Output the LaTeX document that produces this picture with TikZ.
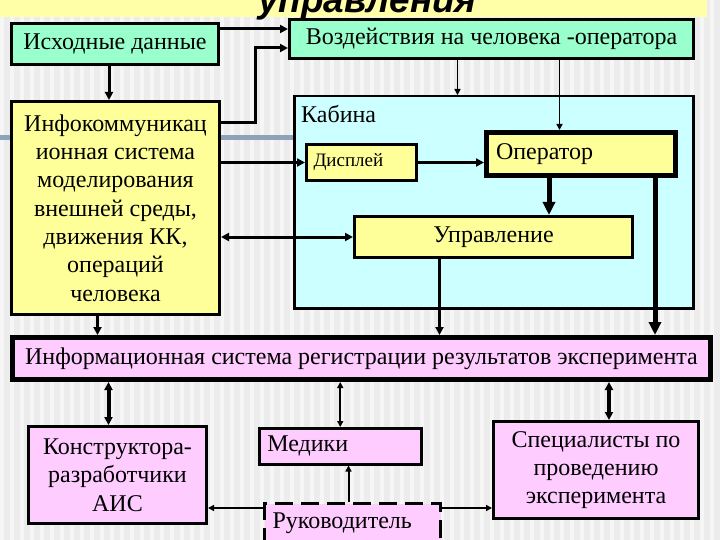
\documentclass[tikz,border=0pt]{standalone}
\usepackage{fontspec}
\setmainfont{Liberation Serif}
\newfontfamily\titlefont{Liberation Sans}
\usetikzlibrary{arrows.meta, positioning, calc}
\definecolor{SlideGray}{HTML}{ECECEC}
\definecolor{SlideBand}{HTML}{FFFFA8}
\definecolor{RuleBlue}{HTML}{8EA2B8}
\definecolor{BoxMint}{HTML}{99FFCC}
\definecolor{BoxYellow}{HTML}{FFFF99}
\definecolor{BoxCyan}{HTML}{CCFFFF}
\definecolor{BoxPink}{HTML}{FFCCFF}
\newcommand{\boxfont}{\fontsize{24}{28.3}\selectfont}
\tikzset{
    % Slide heading (cut off at the top)
    heading/.style={
        anchor=base west,
        inner sep=0pt,
        font=\titlefont\bfseries\itshape\fontsize{37}{37}\selectfont
    },
    % Plain box
    block/.style={
        rectangle,
        draw=black,
        line width=3pt,
        anchor=north west,
        align=center,
        inner sep=4pt,
        font=\boxfont
    },
    % Input data box
    inputbox/.style={block, fill=BoxMint},
    % Model and cabin unit box
    unitbox/.style={block, fill=BoxYellow},
    % Registry and people box
    peoplebox/.style={block, fill=BoxPink},
    % Cabin frame
    cabinframe/.style={block, fill=BoxCyan, line width=2.5pt},
    % Text set to the left of its box
    lefttext/.style={align=left, inner xsep=7pt},
    % Arrow styles
    link/.style={-{Triangle[length=8pt,width=8pt]}, line width=3pt},
    thinlink/.style={-{Triangle[length=6pt,width=6pt]}, line width=1.5pt},
    heavylink/.style={-{Triangle[length=13pt,width=12pt]}, line width=5pt},
    duallink/.style={{Triangle[length=8pt,width=8pt]}-{Triangle[length=8pt,width=8pt]}, line width=3pt},
    thindual/.style={{Triangle[length=6pt,width=6pt]}-{Triangle[length=6pt,width=6pt]}, line width=1.8pt}
}
\begin{document}
\begin{tikzpicture}[x=1pt, y=-1pt]
        % Slide background
        \clip (0,0) rectangle (720,540);
        \fill [SlideGray] (0,0) rectangle (720,540);
        \foreach \sx in {0,10,...,720}
            \fill [white, opacity=0.55] (\sx,0) rectangle ++(4,540);
        \fill [SlideBand] (0,0) rectangle (707,17);
        \draw [RuleBlue, line width=5pt] (0,137.5) -- (293,137.5);
        \node (title) [heading] at (258,13) {управления};

        % Inputs and model
        \node (src) [inputbox, minimum width=207pt, minimum height=41pt] at (10,22) {Исходные данные};
        \node (impact) [inputbox, minimum width=404pt, minimum height=39pt, inner xsep=2pt] at (288,18) {Воздействия на человека -оператора};
        \node (sim) [unitbox, minimum width=208pt, minimum height=213pt] at (10,100) {Инфокоммуникац\\ионная система\\моделирования\\внешней среды,\\движения КК,\\операций\\человека};

        % Cabin
        \node (cabin) [cabinframe, minimum width=399pt, minimum height=212pt] at (293,95) {};
        \node (cabinlabel) [anchor=base west, inner sep=0pt, font=\boxfont] at (301,123) {Кабина};
        \node (display) [unitbox, lefttext, text width=96pt, minimum width=110pt, minimum height=36pt, font=\fontsize{19}{22}\selectfont] at (305,143) {Дисплей};
        \node (operator) [unitbox, lefttext, line width=5pt, text width=170pt, minimum width=189pt, minimum height=43pt] at (484,130) {Оператор};
        \node (control) [unitbox, minimum width=278pt, minimum height=41pt] at (353,215) {Управление};

        % Registry and people
        \node (registry) [peoplebox, line width=5pt, minimum width=698pt, minimum height=42pt, inner xsep=1pt] at (10,335) {Информационная система регистрации результатов эксперимента};
        \node (designers) [peoplebox, minimum width=178pt, minimum height=97pt] at (27,425) {Конструктора-\\разработчики\\АИС};
        \node (medics) [peoplebox, lefttext, line width=2.5pt, text width=146pt, minimum width=162pt, minimum height=36pt] at (258,427) {Медики};
        \node (chief) [peoplebox, lefttext, dash pattern=on 18pt off 8pt, text width=160pt, minimum width=176pt, minimum height=40pt] at (263,502) {Руководитель};
        \node (specialists) [peoplebox, minimum width=205pt, minimum height=97pt] at (492,420) {Специалисты по\\проведению\\эксперимента};

        % Connectors into the top boxes
        \draw [link] ([yshift=-7pt]src.north east) -- ([yshift=-11pt]impact.north west);
        \draw [link] ([yshift=-23pt]sim.north east) -- ++(34,0) |- ([yshift=-30pt]impact.north west);
        \draw [link] ([xshift=-6pt]src.south) -- ([xshift=-6pt]src.south |- sim.north);

        % Connectors inside the cabin
        \draw [thinlink] ([xshift=-34pt]impact.south) -- ([xshift=-34pt]impact.south |- cabin.north);
        \draw [thinlink] ([xshift=68pt]impact.south) -- ([xshift=68pt]impact.south |- operator.north);
        \draw [link] (display.west -| sim.east) -- (display.west);
        \draw [link] (display.east) -- (display.east -| operator.west);
        \draw [heavylink] ([xshift=-32pt]operator.south) -- ([xshift=-32pt]operator.south |- control.north);
        \draw [duallink] (control.west -| sim.east) -- (control.west);

        % Connectors into the registry
        \draw [link] ([xshift=-18pt]sim.south) -- ([xshift=-18pt]sim.south |- registry.north);
        \draw [link] ([xshift=-54pt]control.south) -- ([xshift=-54pt]control.south |- registry.north);
        \draw [heavylink] ([xshift=74pt]operator.south) -- ([xshift=74pt]operator.south |- registry.north);

        % Connectors out of the registry
        \draw [duallink, line width=4pt] ([xshift=-9pt]designers.north |- registry.south) -- ([xshift=-9pt]designers.north);
        \draw [thindual] (medics.north |- registry.south) -- (medics.north);
        \draw [duallink, line width=3.5pt] ([xshift=13pt]specialists.north |- registry.south) -- ([xshift=13pt]specialists.north);

        % Connectors from the head
        \draw [thinlink, line width=2pt] ([xshift=-4pt]chief.north) -- ([xshift=-4pt]chief.north |- medics.south);
        \draw [thinlink, line width=2pt] ([yshift=-6pt]chief.north west) -- ([yshift=-6pt]chief.north west -| designers.east);
        \draw [thinlink, line width=2pt] ([yshift=-6pt]chief.north east) -- ([yshift=-6pt]chief.north east -| specialists.west);
\end{tikzpicture}
\end{document}
